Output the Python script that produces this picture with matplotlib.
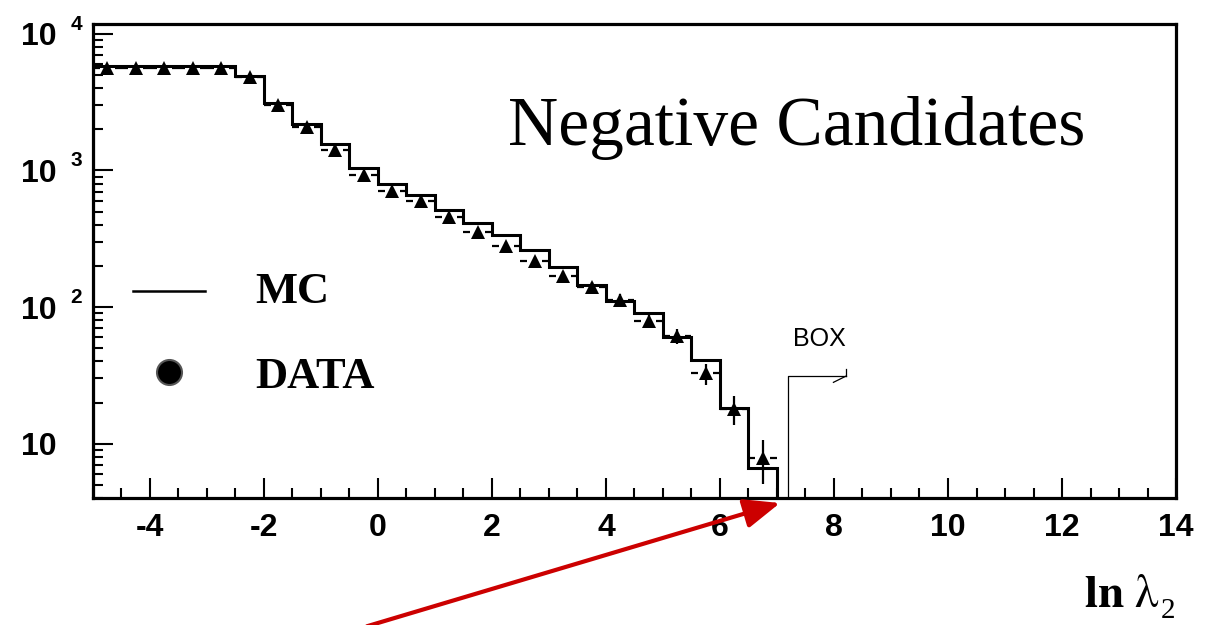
import matplotlib
matplotlib.use("Agg")
import matplotlib.pyplot as plt
import numpy as np
from matplotlib.ticker import MultipleLocator, LogLocator, NullFormatter, FixedLocator, FixedFormatter

# histogram binning (ln lambda_2), 0.5 wide bins
bin_edges = [-5.0, -4.5, -4.0, -3.5, -3.0, -2.5, -2.0, -1.5, -1.0, -0.5, 0.0, 0.5,
             1.0, 1.5, 2.0, 2.5, 3.0, 3.5, 4.0, 4.5, 5.0, 5.5, 6.0, 6.5, 7.0]
bin_centers = [-4.75, -4.25, -3.75, -3.25, -2.75, -2.25, -1.75, -1.25, -0.75, -0.25,
               0.25, 0.75, 1.25, 1.75, 2.25, 2.75, 3.25, 3.75, 4.25, 4.75,
               5.25, 5.75, 6.25, 6.75]

mc_counts = [5850, 5850, 5850, 5850, 5850, 4920, 3140, 2180, 1557, 1050, 790, 660,
             515, 415, 335, 262, 195, 145, 111, 91, 60, 41, 18.2, 6.6]
data_counts = [5650, 5650, 5650, 5650, 5650, 4820, 3010, 2075, 1403, 927, 705, 595,
               455, 357, 282, 219, 170, 141, 113, 79, 61, 32.7, 18, 7.9]
data_err = [75, 75, 75, 75, 75, 69, 55, 46, 37, 30, 27, 24,
            21, 19, 17, 15, 13, 12, 11, 9, 7.8, 5.7, 4.2, 2.8]

box_cut = 7.19
x_ticks = [-4, -2, 0, 2, 4, 6, 8, 10, 12, 14]
y_ticks = [10, 100, 1000, 10000]
y_exponents = ["", "2", "3", "4"]

SANS = "Liberation Sans"
SERIF = "Liberation Serif"
plt.rcParams["mathtext.fontset"] = "stix"

fig = plt.figure(figsize=(12.14, 6.25), dpi=100)
ax = fig.add_axes([0.0766, 0.2032, 0.8921, 0.7584])

# MC histogram
ax.stairs(mc_counts, bin_edges, baseline=1.0, color="black", linewidth=2.2)

# data points: vertical errors + ROOT-like horizontal dashes with a gap
ax.errorbar(bin_centers, data_counts, yerr=data_err, fmt="^", color="black",
            markersize=9.5, markeredgewidth=0, elinewidth=1.6, capsize=0, zorder=3)
gap = 0.13
ax.hlines(data_counts, bin_edges[:-1], np.array(bin_centers) - gap,
          color="black", linewidth=1.6, zorder=3)
ax.hlines(data_counts, np.array(bin_centers) + gap, bin_edges[1:],
          color="black", linewidth=1.6, zorder=3)

ax.set_yscale("log")
ax.set_xlim(-5, 14)
ax.set_ylim(4, 11800)

# axis style like ROOT
for side in ax.spines.values():
    side.set_linewidth(2.3)
ax.xaxis.set_major_locator(FixedLocator(x_ticks))
ax.xaxis.set_minor_locator(MultipleLocator(0.5))
ax.xaxis.set_major_formatter(FixedFormatter([str(v) for v in x_ticks]))
ax.yaxis.set_major_locator(FixedLocator(y_ticks))
ax.yaxis.set_major_formatter(FixedFormatter(["10"] * len(y_ticks)))
ax.yaxis.set_minor_locator(LogLocator(base=10, subs=np.arange(2, 10)))
ax.yaxis.set_minor_formatter(NullFormatter())
ax.tick_params(which="both", direction="in", top=False, right=False, width=1.5)
ax.tick_params(which="major", length=14.4)
ax.tick_params(which="minor", length=7.2)
ax.tick_params(axis="x", which="major", pad=11)
ax.tick_params(axis="y", which="major", pad=26)
for lab in ax.get_xticklabels() + ax.get_yticklabels():
    lab.set_fontfamily(SANS)
    lab.set_fontweight("bold")
    lab.set_fontsize(23)

# exponents of the y labels
for val, ex in zip(y_ticks, y_exponents):
    if ex:
        ax.annotate(ex, xy=(-0.0157, val), xycoords=("axes fraction", "data"),
                    xytext=(0, 7), textcoords="offset points",
                    ha="center", va="center", fontsize=15, fontweight="bold",
                    family=SANS, annotation_clip=False)

# title inside the frame
ax.text(0.383, 0.745, "Negative Candidates", transform=ax.transAxes,
        fontsize=50, family=SERIF, ha="left", va="baseline")

# hand made legend
ax.plot([0.037, 0.1034], [0.437, 0.437], transform=ax.transAxes,
        color="black", linewidth=1.8)
ax.text(0.1496, 0.4346, "MC", transform=ax.transAxes, fontsize=32,
        fontweight="bold", family=SERIF, ha="left", va="center")
ax.plot([0.0702], [0.2658], "o", transform=ax.transAxes, markersize=18,
        color="black", markeredgecolor="#555555", markeredgewidth=1.5)
ax.text(0.1496, 0.2553, "DATA", transform=ax.transAxes, fontsize=32,
        fontweight="bold", family=SERIF, ha="left", va="center")

# signal box marker
ax.plot([box_cut, box_cut, 8.21], [4, 31.2, 31.2], color="black", linewidth=0.9)
ax.plot([8.21, 8.21], [31.2, 35.0], color="black", linewidth=0.9)
ax.plot([7.99, 8.21], [28.1, 31.2], color="black", linewidth=0.9)
ax.text(7.746, 58.3, "BOX", fontsize=18, family=SANS, ha="center", va="center")

# axis title (subscript placed by hand, ROOT puts it low)
fig.text(0.9555, 0.0288, r"$\mathbf{ln}\ \mathrm{\lambda}$",
         fontsize=34, ha="right", va="baseline")
fig.text(0.9560, 0.011, "2", fontsize=21, family=SERIF, ha="left", va="baseline")

# red arrow pointing at the cut
fig.patches.append(matplotlib.patches.FancyArrowPatch(
    (0.3023, -0.002), (0.6425, 0.1952), transform=fig.transFigure,
    arrowstyle="-|>,head_length=2.2,head_width=0.9", mutation_scale=10,
    color="#cc0000", linewidth=3, shrinkA=0, shrinkB=0))

fig.savefig("out.png", dpi=100)
